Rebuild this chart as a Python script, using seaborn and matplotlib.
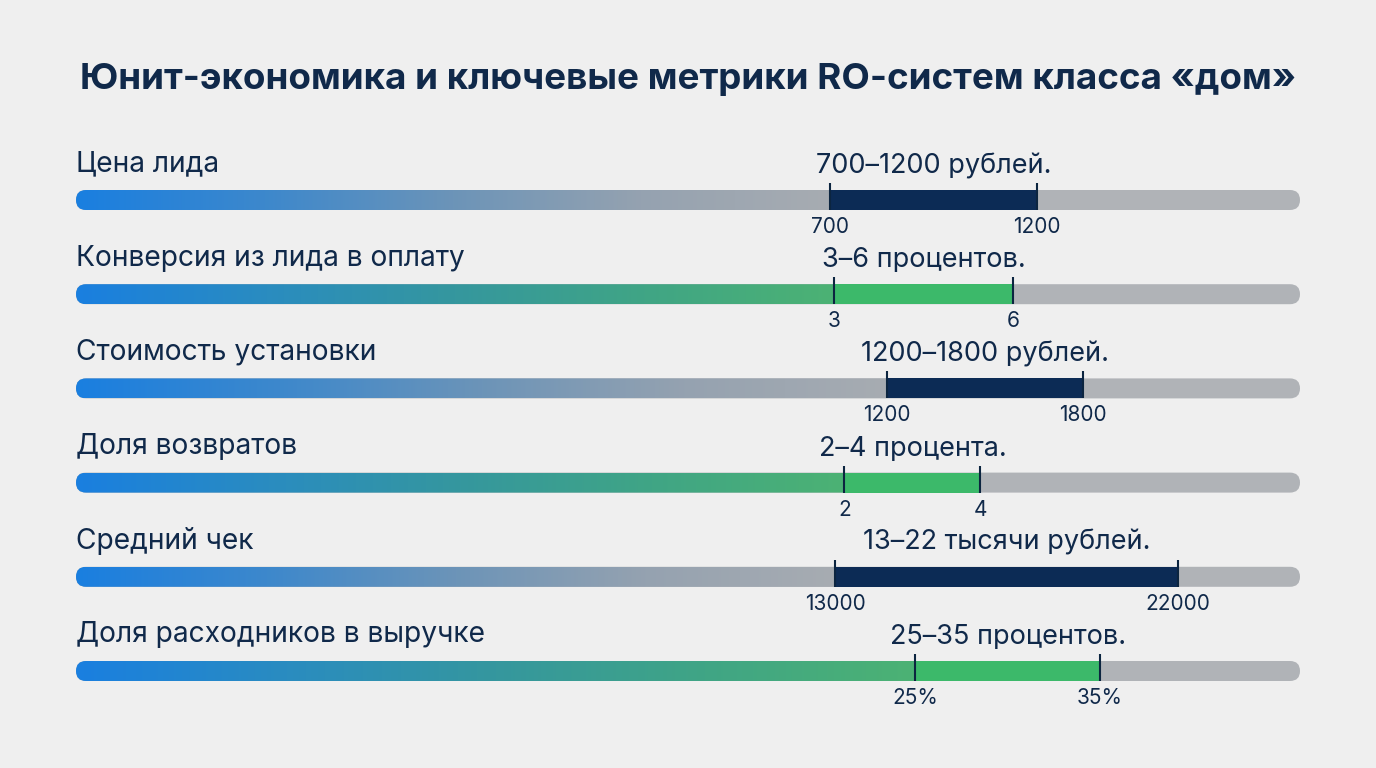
import numpy as np
import seaborn as sns
import matplotlib.pyplot as plt
from matplotlib.patches import FancyBboxPatch, Rectangle
from matplotlib.transforms import blended_transform_factory

# data
metrics = ["Цена лида", "Конверсия из лида в оплату", "Стоимость установки",
           "Доля возвратов", "Средний чек", "Доля расходников в выручке"]
range_texts = ["700–1200 рублей.", "3–6 процентов.", "1200–1800 рублей.",
               "2–4 процента.", "13–22 тысячи рублей.", "25–35 процентов."]
range_lo = [700, 3, 1200, 2, 13000, 25]
range_hi = [1200, 6, 1800, 4, 22000, 35]
lo_labels = ["700", "3", "1200", "2", "13000", "25%"]
hi_labels = ["1200", "6", "1800", "4", "22000", "35%"]
kinds = ["money", "share", "money", "share", "money", "share"]
# scale of each track (left and right ends of the grey rail)
track_lo = [-1120, -9.7, -1283, -9.3, -6916, -20.35]
track_hi = [1835, 10.8, 2464, 8.7, 25200, 45.8]

bg = "#efefef"
navy = "#0c2b55"
green = "#3cb96a"
rail = "#b0b3b7"
text_c = "#10294a"
grad_money = sns.blend_palette(["#1a7fe0", "#3d88cc", "#6c94b8", "#95a2b0", "#a7acb2"], 256)
grad_share = sns.blend_palette(["#1a7fe0", "#2a8cc0", "#35979e", "#40a585", "#4cb274"], 256)

sns.set_theme(style="white")
plt.rcParams["font.family"] = ["Inter", "DejaVu Sans"]

W, H = 1376, 768
fig = plt.figure(figsize=(W / 100, H / 100), dpi=100, facecolor=bg)
fig.text(0.5, 1 - 79 / H, "Юнит-экономика и ключевые метрики RO-систем класса «дом»",
         ha="center", va="center", fontsize=26.5, fontweight="bold", color=text_c)

left_px, right_px = 76, 1300
row_y0, row_step = 200, 94.2
half = 47

for i, name in enumerate(metrics):
    yc = row_y0 + i * row_step
    ax = fig.add_axes([left_px / W, 1 - (yc + half) / H, (right_px - left_px) / W, 2 * half / H])
    ax.set_facecolor("none")
    lo, hi = track_lo[i], track_hi[i]
    ax.set_xlim(lo, hi)
    ax.set_ylim(half, -half)
    ax.axis("off")
    ux = (hi - lo) / (right_px - left_px)

    r = FancyBboxPatch((lo, -10), hi - lo, 20,
                       boxstyle=f"round,pad=0,rounding_size={10 * ux}",
                       mutation_aspect=1 / ux, fc=rail, ec="none", zorder=1)
    ax.add_patch(r)

    grad = grad_money if kinds[i] == "money" else grad_share
    img = np.array(grad)[None, :, :]
    im = ax.imshow(img, extent=(lo, range_lo[i], 10, -10), aspect="auto",
                   interpolation="bilinear", zorder=2)
    im.set_clip_path(r)

    ax.add_patch(Rectangle((range_lo[i], -10), range_hi[i] - range_lo[i], 20,
                           fc=navy if kinds[i] == "money" else green, ec="none", zorder=3))

    for v, lab in [(range_lo[i], lo_labels[i]), (range_hi[i], hi_labels[i])]:
        ax.plot([v, v], [-17, 10], color="#0c2540", lw=1.5, zorder=4, solid_capstyle="butt")
        ax.text(v, 27, lab, ha="center", va="center", fontsize=15, color=text_c)

    tr = blended_transform_factory(ax.transAxes, ax.transData)
    ax.text(0, -36, name, transform=tr, ha="left", va="center", fontsize=20.3, color=text_c)
    ax.text((range_lo[i] + range_hi[i]) / 2, -34, range_texts[i], ha="center", va="center",
            fontsize=19.5, color=text_c)

fig.savefig("out.png", dpi=100, facecolor=bg)
